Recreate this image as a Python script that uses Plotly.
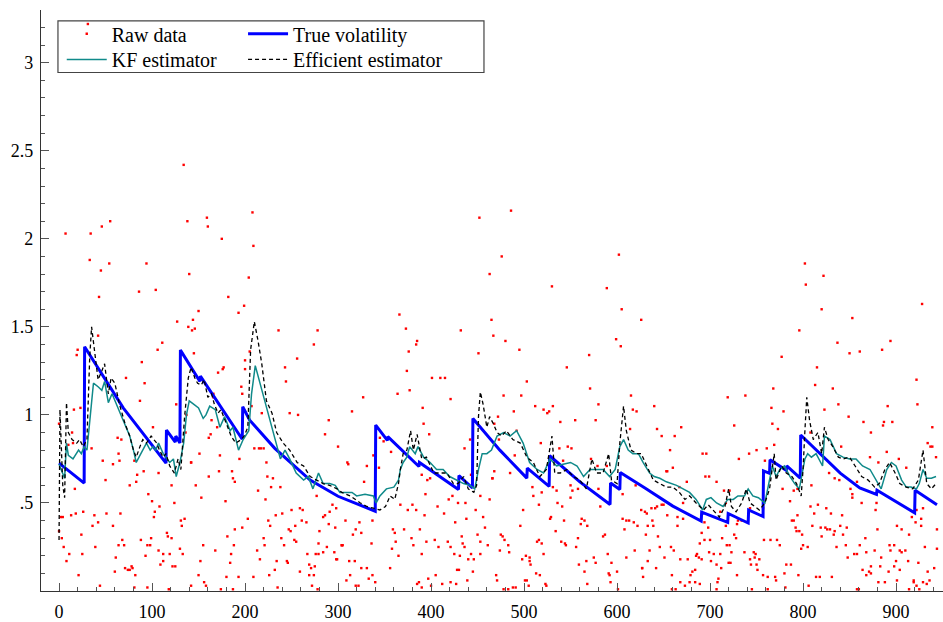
import plotly.graph_objects as go

# ---------------- True volatility (vertices of the piecewise path) ----------------
TV_X = [0, 27, 27.5, 69, 115, 115.5, 125, 125.5, 130, 130.5, 151.5, 152, 197, 197.5, 205, 232, 270, 300,
        340, 340.5, 353, 353.5, 387, 387.5, 429.5, 430, 444.5, 445, 474, 503, 503.5, 527, 527.5, 560,
        592.5, 593, 603, 603.5, 630, 660, 690.5, 691, 719, 719.5, 741, 741.5, 757, 757.5, 764, 764.5,
        782, 782.5, 797, 797.5, 840, 861, 879, 879.5, 920, 920.5, 944]
TV_Y = [0.726, 0.613, 1.387, 1.04, 0.726, 0.914, 0.845, 0.88, 0.84, 1.368, 1.19, 1.22, 0.862, 1.046, 0.97,
        0.81, 0.63, 0.538, 0.453, 0.942, 0.855, 0.877, 0.707, 0.73, 0.576, 0.655, 0.585, 0.98, 0.80, 0.641,
        0.698, 0.594, 0.768, 0.62, 0.491, 0.613, 0.576, 0.673, 0.585, 0.482, 0.397, 0.448, 0.39, 0.44,
        0.386, 0.46, 0.423, 0.682, 0.668, 0.745, 0.685, 0.71, 0.641, 0.886, 0.669, 0.585, 0.548, 0.572,
        0.444, 0.572, 0.49]

# ---------------- KF estimator ----------------
KF_X = [0, 3, 6, 8, 10, 15, 21, 24, 27, 30,
        33, 37, 42, 46, 49, 53, 57, 61, 67, 72,
        76, 80, 83, 87, 90, 94, 98, 101, 104, 107,
        112, 116, 119, 123, 126, 130, 134, 137, 140, 145,
        150, 155, 158, 162, 168, 173, 178, 184, 187, 193,
        198, 204, 207, 211, 216, 221, 227, 232, 238, 243,
        248, 255, 263, 268, 273, 279, 284, 291, 297, 302,
        308, 315, 320, 329, 338, 341, 345, 352, 360, 365,
        367, 370, 374, 377, 383, 386, 392, 399, 406, 413,
        420, 428, 435, 442, 447, 451, 455, 460, 465, 471,
        478, 485, 492, 499, 506, 514, 521, 528, 535, 542,
        550, 557, 564, 571, 578, 585, 592, 598, 603, 607,
        612, 617, 623, 628, 635, 640, 646, 653, 664, 671,
        678, 685, 692, 696, 701, 707, 714, 719, 725, 730,
        737, 741, 746, 752, 759, 762, 767, 771, 775, 780,
        786, 791, 796, 802, 805, 809, 814, 821, 823, 829,
        836, 843, 850, 857, 864, 872, 879, 884, 890, 895,
        900, 906, 911, 916, 922, 925, 929, 933, 938, 943]
KF_Y = [0.72, 0.68, 0.64, 0.84, 0.77, 0.75, 0.80, 0.78, 0.82, 0.80,
        0.97, 1.18, 1.16, 1.14, 1.19, 1.07, 1.12, 1.07, 0.99, 0.93,
        0.88, 0.80, 0.73, 0.77, 0.80, 0.84, 0.80, 0.82, 0.80, 0.84,
        0.78, 0.75, 0.73, 0.75, 0.65, 0.73, 0.84, 1.00, 1.08, 1.06,
        1.04, 0.98, 1.00, 1.05, 1.03, 0.93, 0.99, 0.91, 0.93, 0.80,
        0.86, 0.91, 1.12, 1.28, 1.18, 1.08, 0.97, 0.86, 0.75, 0.80,
        0.75, 0.67, 0.63, 0.65, 0.58, 0.67, 0.61, 0.61, 0.60, 0.56,
        0.56, 0.56, 0.54, 0.55, 0.54, 0.50, 0.54, 0.58, 0.59, 0.63,
        0.69, 0.73, 0.76, 0.82, 0.78, 0.82, 0.76, 0.73, 0.69, 0.69,
        0.65, 0.63, 0.61, 0.60, 0.58, 0.69, 0.78, 0.78, 0.80, 0.88,
        0.90, 0.88, 0.91, 0.84, 0.73, 0.69, 0.67, 0.75, 0.71, 0.72,
        0.73, 0.71, 0.65, 0.69, 0.69, 0.69, 0.65, 0.69, 0.82, 0.86,
        0.80, 0.78, 0.78, 0.73, 0.67, 0.65, 0.64, 0.62, 0.60, 0.58,
        0.56, 0.52, 0.46, 0.52, 0.53, 0.50, 0.48, 0.52, 0.52, 0.54,
        0.54, 0.58, 0.54, 0.53, 0.50, 0.58, 0.71, 0.65, 0.69, 0.71,
        0.65, 0.61, 0.58, 0.75, 0.78, 0.76, 0.78, 0.71, 0.88, 0.86,
        0.78, 0.76, 0.75, 0.75, 0.71, 0.69, 0.63, 0.58, 0.69, 0.73,
        0.71, 0.63, 0.59, 0.59, 0.58, 0.61, 0.69, 0.64, 0.64, 0.65]

# ---------------- Efficient estimator ----------------
EF_X = [0, 1, 4, 6, 8, 10, 14, 19, 22, 26,
        30, 33, 35, 39, 42, 46, 49, 53, 56, 60,
        65, 71, 76, 80, 83, 87, 90, 94, 99, 105,
        108, 112, 115, 119, 124, 128, 131, 135, 139, 142,
        146, 149, 153, 156, 160, 164, 167, 171, 174, 180,
        185, 190, 196, 199, 203, 206, 210, 214, 218, 223,
        229, 234, 241, 248, 256, 263, 270, 277, 284, 291,
        299, 304, 313, 324, 331, 338, 345, 351, 356, 361,
        365, 367, 370, 374, 378, 381, 385, 390, 395, 403,
        410, 417, 424, 429, 435, 440, 446, 449, 451, 453,
        456, 460, 463, 467, 471, 476, 481, 488, 496, 503,
        510, 517, 524, 530, 533, 539, 546, 553, 560, 567,
        573, 578, 585, 591, 594, 600, 603, 607, 610, 615,
        621, 626, 632, 639, 646, 653, 660, 667, 673, 678,
        685, 693, 698, 703, 710, 716, 720, 723, 728, 734,
        739, 743, 748, 753, 759, 764, 769, 771, 777, 782,
        788, 793, 798, 800, 802, 804, 807, 811, 816, 820,
        823, 827, 832, 838, 843, 850, 856, 863, 870, 877,
        882, 888, 893, 899, 904, 911, 918, 924, 929, 933,
        938, 943]
EF_Y = [0.29, 1.03, 0.60, 0.53, 1.07, 0.90, 0.86, 0.84, 0.86, 0.82,
        0.86, 1.33, 1.50, 1.33, 1.20, 1.25, 1.29, 1.12, 1.21, 1.18,
        1.06, 0.95, 0.88, 0.80, 0.76, 0.82, 0.86, 0.84, 0.88, 0.84,
        0.80, 0.76, 0.78, 0.71, 0.67, 0.75, 0.69, 0.99, 1.21, 1.27,
        1.21, 1.18, 1.17, 1.20, 1.10, 1.12, 1.06, 1.01, 1.03, 0.95,
        0.88, 0.84, 0.86, 0.88, 0.93, 1.37, 1.53, 1.42, 1.29, 1.08,
        1.01, 0.90, 0.84, 0.80, 0.73, 0.71, 0.65, 0.63, 0.61, 0.60,
        0.58, 0.56, 0.54, 0.50, 0.48, 0.47, 0.46, 0.48, 0.54, 0.52,
        0.61, 0.69, 0.78, 0.80, 0.91, 0.80, 0.89, 0.75, 0.76, 0.67,
        0.67, 0.67, 0.61, 0.61, 0.65, 0.58, 0.56, 0.60, 0.99, 1.13,
        1.06, 0.93, 0.99, 0.95, 0.90, 0.88, 0.91, 0.86, 0.84, 0.76,
        0.73, 0.65, 0.69, 0.88, 0.67, 0.67, 0.69, 0.65, 0.63, 0.58,
        0.75, 0.67, 0.67, 0.78, 0.63, 0.61, 0.84, 1.05, 0.91, 0.80,
        0.78, 0.78, 0.71, 0.63, 0.61, 0.59, 0.59, 0.56, 0.52, 0.54,
        0.50, 0.46, 0.49, 0.46, 0.42, 0.48, 0.58, 0.48, 0.45, 0.50,
        0.58, 0.50, 0.48, 0.46, 0.50, 0.58, 0.78, 0.63, 0.71, 0.67,
        0.65, 0.61, 0.54, 0.69, 0.91, 1.10, 0.97, 0.86, 0.90, 0.78,
        0.93, 0.86, 0.82, 0.76, 0.75, 0.76, 0.71, 0.65, 0.63, 0.59,
        0.61, 0.69, 0.73, 0.67, 0.61, 0.59, 0.58, 0.63, 0.80, 0.61,
        0.58, 0.61]

# ---------------- Raw data (read region by region) ----------------
RAW_X_A = [134, 208, 159, 138, 55, 46, 160, 7, 34, 175,
           209, 33, 54, 94, 45, 140, 204, 86, 104, 43,
           182, 199, 150, 193, 366, 144, 127, 139, 146, 143,
           236, 278, 373, 432, 452, 42, 31]
RAW_Y_A = [2.42, 2.15, 2.12, 2.10, 2.10, 2.07, 2.07, 2.03, 2.03, 2.00,
           1.96, 1.88, 1.86, 1.86, 1.82, 1.80, 1.78, 1.70, 1.71, 1.67,
           1.67, 1.62, 1.59, 1.58, 1.57, 1.54, 1.53, 1.50, 1.49, 1.48,
           1.48, 1.48, 1.49, 1.48, 2.12, 1.45, 3.22]

RAW_X_B = [486, 476, 602, 463, 802, 822, 803, 530, 589, 605,
           928, 820, 465, 626, 853, 796, 467]
RAW_Y_B = [2.16, 1.90, 1.91, 1.80, 1.86, 1.79, 1.74, 1.73, 1.72, 1.60,
           1.63, 1.60, 1.54, 1.54, 1.55, 1.48, 1.45]

RAW_X_C = [111, 20, 19, 106, 89, 72, 92, 87, 126, 23,
           16, 0, 137, 136, 142, 14, 101, 10, 15, 63,
           67, 35, 64, 47, 58, 65, 81, 91, 84, 107,
           50, 76, 83, 17, 121, 96, 100, 124, 108, 103,
           102, 26, 18, 13, 2, 4, 38, 51, 66, 42,
           36, 58, 131, 135, 132, 3, 0, 24, 68, 88,
           99, 98, 116, 117, 5, 39, 64, 70, 95, 121,
           130, 133, 11, 25, 93, 107, 112, 119, 8, 61,
           112, 109, 122, 125, 71, 74, 76, 78, 79, 21,
           60, 82, 44, 81, 95, 118, 142]
RAW_Y_C = [1.41, 1.37, 1.34, 1.37, 1.30, 1.21, 1.18, 1.08, 1.06, 1.04,
           1.03, 0.95, 1.00, 0.90, 0.73, 0.90, 0.93, 0.83, 0.84, 0.87,
           0.86, 0.81, 0.78, 0.74, 0.72, 0.74, 0.74, 0.68, 0.66, 0.67,
           0.63, 0.60, 0.62, 0.58, 0.60, 0.55, 0.51, 0.50, 0.48, 0.45,
           0.42, 0.45, 0.44, 0.43, 0.42, 0.42, 0.43, 0.44, 0.44, 0.39,
           0.37, 0.37, 0.40, 0.41, 0.37, 0.30, 0.34, 0.32, 0.29, 0.29,
           0.30, 0.26, 0.33, 0.31, 0.25, 0.25, 0.26, 0.26, 0.26, 0.30,
           0.24, 0.21, 0.21, 0.21, 0.20, 0.23, 0.21, 0.21, 0.17, 0.19,
           0.17, 0.15, 0.14, 0.14, 0.13, 0.12, 0.12, 0.14, 0.13, 0.09,
           0.11, 0.09, 0.03, 0.02, 0.02, 0.01, 0.03]

RAW_X_D = [274, 145, 256, 200, 205, 177, 176, 171, 200, 243,
           244, 196, 197, 166, 166, 207, 218, 248, 257, 290,
           164, 170, 163, 161, 286, 210, 215, 217, 220, 300,
           194, 151, 173, 142, 223, 186, 172, 161, 224, 187,
           189, 230, 147, 238, 228, 214, 153, 179, 222, 277,
           294, 298, 259, 262, 250, 291, 286, 284, 233, 240,
           261, 225, 227, 203, 197, 189, 247, 249, 254, 266,
           297, 280, 290, 181, 155, 168, 188, 220, 221, 239,
           242, 253, 255, 279, 288, 304, 267, 276, 279, 284,
           296, 185, 213, 152, 184, 216, 234, 245, 246, 269,
           271, 275, 299, 298, 226, 232, 259, 269, 274, 150,
           180, 193, 209, 156, 158, 174, 187, 235, 272, 278]
RAW_Y_D = [1.40, 1.35, 1.32, 1.31, 1.36, 1.27, 1.26, 1.24, 1.26, 1.27,
           1.19, 1.16, 1.12, 1.12, 1.10, 1.05, 1.01, 1.01, 1.00, 0.97,
           0.97, 0.93, 0.89, 0.87, 0.89, 0.81, 0.81, 0.81, 0.81, 0.82,
           0.75, 0.78, 0.77, 0.73, 0.73, 0.68, 0.68, 0.65, 0.65, 0.64,
           0.62, 0.64, 0.60, 0.59, 0.59, 0.57, 0.53, 0.51, 0.52, 0.54,
           0.49, 0.47, 0.47, 0.46, 0.46, 0.45, 0.43, 0.42, 0.43, 0.44,
           0.40, 0.40, 0.37, 0.41, 0.36, 0.35, 0.35, 0.34, 0.37, 0.39,
           0.36, 0.34, 0.38, 0.31, 0.26, 0.23, 0.26, 0.30, 0.26, 0.30,
           0.26, 0.29, 0.28, 0.27, 0.25, 0.26, 0.21, 0.21, 0.21, 0.22,
           0.22, 0.21, 0.23, 0.17, 0.16, 0.18, 0.17, 0.17, 0.16, 0.15,
           0.13, 0.14, 0.18, 0.18, 0.09, 0.12, 0.11, 0.09, 0.09, 0.09,
           0.08, 0.08, 0.08, 0.05, 0.03, 0.01, 0.01, 0.02, 0.03, 0.01]

RAW_X_E = [385, 384, 376, 451, 374, 401, 410, 415, 364, 377,
           327, 421, 391, 315, 392, 398, 345, 349, 357, 442,
           436, 338, 310, 311, 331, 344, 466, 390, 396, 399,
           328, 443, 394, 423, 419, 429, 437, 453, 367, 380,
           375, 384, 407, 448, 414, 393, 308, 323, 337, 426,
           438, 456, 458, 359, 361, 388, 371, 319, 316, 325,
           450, 433, 304, 305, 336, 362, 379, 381, 395, 404,
           408, 418, 421, 434, 436, 453, 461, 365, 358, 390,
           425, 431, 440, 443, 446, 453, 312, 318, 325, 331,
           356, 428, 430, 445, 313, 337, 333, 340, 387, 397,
           405, 412, 421, 427, 439, 385, 319, 322, 309, 390,
           400]
RAW_Y_E = [1.42, 1.40, 1.36, 1.35, 1.25, 1.21, 1.21, 1.21, 1.12, 1.14,
           1.10, 1.09, 1.04, 1.02, 0.95, 0.89, 0.87, 0.85, 0.79, 0.86,
           0.81, 0.77, 0.73, 0.72, 0.71, 0.70, 0.64, 0.66, 0.63, 0.64,
           0.62, 0.66, 0.55, 0.54, 0.52, 0.50, 0.50, 0.54, 0.49, 0.49,
           0.46, 0.46, 0.48, 0.46, 0.44, 0.43, 0.40, 0.39, 0.40, 0.39,
           0.41, 0.42, 0.36, 0.35, 0.33, 0.35, 0.35, 0.35, 0.32, 0.33,
           0.32, 0.31, 0.26, 0.26, 0.27, 0.28, 0.30, 0.26, 0.28, 0.29,
           0.25, 0.28, 0.25, 0.27, 0.25, 0.28, 0.26, 0.20, 0.24, 0.21,
           0.21, 0.20, 0.18, 0.21, 0.18, 0.21, 0.17, 0.17, 0.13, 0.13,
           0.13, 0.12, 0.12, 0.11, 0.09, 0.09, 0.07, 0.05, 0.05, 0.07,
           0.09, 0.04, 0.05, 0.04, 0.06, 0.04, 0.03, 0.03, 0.06, 0.02,
           0.03]

RAW_X_F = [480, 599, 604, 495, 570, 546, 503, 571, 478, 497,
           615, 580, 512, 521, 527, 531, 525, 617, 621, 489,
           472, 539, 555, 577, 468, 614, 492, 473, 518, 547,
           551, 538, 490, 542, 468, 485, 579, 572, 589, 466,
           509, 531, 535, 550, 552, 558, 519, 510, 550, 580,
           606, 620, 463, 516, 536, 541, 582, 499, 529, 528,
           543, 562, 565, 561, 606, 610, 613, 618, 622, 496,
           568, 608, 475, 477, 479, 534, 587, 585, 516, 519,
           514, 540, 544, 545, 558, 483, 474, 484, 521, 556,
           590, 619, 498, 502, 506, 506, 507, 559, 575, 567,
           577, 594, 610, 470, 513, 517, 565, 591, 592, 600,
           627, 471, 501, 503, 523, 524, 568, 593, 601, 478,
           483, 488, 491, 505]
RAW_Y_F = [1.42, 1.43, 1.39, 1.37, 1.34, 1.27, 1.19, 1.15, 1.11, 1.11,
           1.11, 1.06, 1.05, 1.03, 1.02, 1.05, 1.01, 1.03, 1.02, 1.02,
           0.99, 0.96, 0.97, 0.97, 0.95, 0.92, 0.91, 0.86, 0.84, 0.82,
           0.81, 0.81, 0.77, 0.74, 0.68, 0.67, 0.71, 0.75, 0.71, 0.64,
           0.59, 0.59, 0.57, 0.60, 0.57, 0.58, 0.56, 0.54, 0.53, 0.58,
           0.55, 0.60, 0.52, 0.49, 0.50, 0.48, 0.48, 0.46, 0.42, 0.41,
           0.40, 0.41, 0.40, 0.38, 0.41, 0.40, 0.40, 0.39, 0.37, 0.37,
           0.37, 0.35, 0.32, 0.31, 0.29, 0.34, 0.32, 0.31, 0.29, 0.27,
           0.28, 0.28, 0.27, 0.26, 0.30, 0.26, 0.23, 0.22, 0.21, 0.25,
           0.21, 0.23, 0.18, 0.20, 0.19, 0.17, 0.15, 0.15, 0.19, 0.17,
           0.16, 0.16, 0.19, 0.09, 0.10, 0.09, 0.11, 0.10, 0.09, 0.11,
           0.13, 0.06, 0.06, 0.06, 0.04, 0.03, 0.04, 0.05, 0.01, 0.01,
           0.01, 0.02, 0.02, 0.03]

RAW_X_G = [777, 768, 719, 738, 640, 766, 779, 726, 669, 643,
           767, 773, 648, 662, 761, 769, 657, 692, 696, 742,
           731, 750, 759, 653, 654, 660, 695, 699, 707, 675,
           667, 715, 721, 778, 643, 648, 650, 671, 637, 626,
           630, 632, 641, 654, 665, 671, 711, 717, 743, 757,
           734, 786, 694, 638, 633, 639, 665, 698, 717, 729,
           730, 726, 728, 631, 644, 691, 713, 758, 765, 772,
           775, 689, 694, 700, 718, 721, 635, 646, 658, 661,
           686, 688, 699, 704, 711, 723, 737, 747, 749, 748,
           651, 668, 676, 685, 691, 707, 720, 722, 743, 744,
           750, 753, 782, 627, 642, 633, 681, 679, 684, 701,
           712, 751, 659, 729, 757, 762, 770, 780, 628, 668,
           689, 708, 709, 673, 678, 684, 659, 663, 707, 745,
           762, 771, 781]
RAW_Y_G = [1.33, 1.15, 1.10, 1.11, 1.05, 1.04, 1.02, 0.94, 0.93, 0.92,
           0.95, 0.92, 0.88, 0.88, 0.81, 0.83, 0.80, 0.78, 0.78, 0.78,
           0.75, 0.80, 0.74, 0.68, 0.68, 0.70, 0.65, 0.65, 0.62, 0.62,
           0.59, 0.57, 0.57, 0.58, 0.48, 0.49, 0.49, 0.50, 0.47, 0.46,
           0.45, 0.44, 0.47, 0.43, 0.42, 0.41, 0.45, 0.50, 0.47, 0.47,
           0.40, 0.51, 0.39, 0.40, 0.37, 0.37, 0.37, 0.36, 0.37, 0.38,
           0.40, 0.32, 0.30, 0.32, 0.31, 0.33, 0.30, 0.29, 0.29, 0.29,
           0.26, 0.27, 0.29, 0.29, 0.26, 0.26, 0.23, 0.25, 0.25, 0.23,
           0.21, 0.19, 0.22, 0.21, 0.21, 0.22, 0.22, 0.22, 0.21, 0.19,
           0.19, 0.18, 0.18, 0.20, 0.18, 0.15, 0.16, 0.16, 0.18, 0.15,
           0.15, 0.18, 0.15, 0.13, 0.13, 0.17, 0.11, 0.09, 0.12, 0.17,
           0.13, 0.12, 0.09, 0.09, 0.09, 0.08, 0.08, 0.10, 0.08, 0.05,
           0.04, 0.05, 0.07, 0.03, 0.05, 0.05, 0.01, 0.01, 0.01, 0.01,
           0.01, 0.06, 0.02]

RAW_X_H = [837, 894, 861, 850, 885, 815, 813, 832, 922, 923,
           838, 891, 823, 849, 865, 887, 886, 896, 939, 808,
           873, 934, 841, 937, 939, 872, 890, 943, 881, 903,
           911, 828, 834, 839, 858, 809, 790, 794, 851, 853,
           853, 863, 879, 878, 808, 816, 825, 812, 830, 842,
           794, 922, 929, 917, 788, 790, 810, 792, 793, 796,
           799, 819, 824, 826, 829, 820, 833, 834, 840, 843,
           847, 880, 901, 906, 914, 927, 944, 927, 921, 867,
           800, 798, 805, 836, 846, 861, 858, 848, 855, 868,
           877, 884, 893, 894, 898, 904, 906, 910, 931, 944,
           787, 900, 913, 864, 873, 883, 871, 868, 873, 892,
           898, 904, 924, 934, 941, 795, 814, 818, 831, 881,
           888, 901, 919, 929, 933, 936, 806, 858, 860, 914,
           919, 922, 925]
RAW_Y_H = [1.41, 1.42, 1.36, 1.35, 1.37, 1.27, 1.17, 1.15, 1.20, 1.06,
           1.06, 1.05, 1.03, 0.99, 0.96, 0.96, 0.94, 0.96, 0.93, 0.90,
           0.90, 0.84, 0.82, 0.82, 0.82, 0.76, 0.79, 0.76, 0.73, 0.75,
           0.70, 0.67, 0.64, 0.63, 0.62, 0.60, 0.57, 0.58, 0.58, 0.55,
           0.53, 0.50, 0.50, 0.46, 0.48, 0.49, 0.47, 0.44, 0.44, 0.43,
           0.43, 0.46, 0.47, 0.42, 0.40, 0.40, 0.37, 0.36, 0.34, 0.34,
           0.32, 0.36, 0.36, 0.35, 0.35, 0.31, 0.32, 0.34, 0.37, 0.32,
           0.36, 0.35, 0.37, 0.35, 0.32, 0.37, 0.35, 0.41, 0.39, 0.30,
           0.26, 0.24, 0.25, 0.25, 0.26, 0.26, 0.21, 0.19, 0.21, 0.22,
           0.23, 0.19, 0.26, 0.23, 0.26, 0.23, 0.22, 0.23, 0.25, 0.24,
           0.15, 0.17, 0.17, 0.12, 0.14, 0.14, 0.11, 0.09, 0.10, 0.11,
           0.14, 0.12, 0.16, 0.11, 0.13, 0.09, 0.08, 0.08, 0.08, 0.05,
           0.05, 0.06, 0.06, 0.05, 0.04, 0.06, 0.03, 0.01, 0.01, 0.01,
           0.05, 0.03, 0.01]

RAW_X = RAW_X_A + RAW_X_B + RAW_X_C + RAW_X_D + RAW_X_E + RAW_X_F + RAW_X_G + RAW_X_H
RAW_Y = RAW_Y_A + RAW_Y_B + RAW_Y_C + RAW_Y_D + RAW_Y_E + RAW_Y_F + RAW_Y_G + RAW_Y_H

Y_TICKS = [0.5, 1, 1.5, 2, 2.5, 3]
Y_TICK_TEXT = [".5", "1", "1.5", "2", "2.5", "3"]

FONT = "Liberation Serif"

fig = go.Figure()
fig.add_trace(go.Scatter(x=RAW_X, y=RAW_Y, mode="markers", name="Raw data",
                         marker=dict(color="#ff0000", size=2.4, symbol="square", line=dict(width=0)),
                         legend="legend"))
fig.add_trace(go.Scatter(x=TV_X, y=TV_Y, mode="lines", name="True volatility",
                         line=dict(color="#0000ff", width=3), legend="legend2"))
fig.add_trace(go.Scatter(x=KF_X, y=KF_Y, mode="lines", name="KF estimator",
                         line=dict(color="#108a8a", width=1.5), legend="legend3"))
fig.add_trace(go.Scatter(x=EF_X, y=EF_Y, mode="lines", name="Efficient estimator",
                         line=dict(color="#000000", width=1.3, dash="4px,3px"), legend="legend4"))

legend_common = dict(xanchor="left", yanchor="middle", bgcolor="rgba(0,0,0,0)",
                     borderwidth=0, font=dict(family=FONT, size=20, color="black"),
                     itemwidth=40, tracegroupgap=0)
ROW1 = 0.9590
ROW2 = 0.9150
COL1 = 0.023
COL2 = 0.224

fig.update_layout(
    width=943, height=622,
    margin=dict(l=41, r=0, t=10, b=27, pad=0),
    paper_bgcolor="white", plot_bgcolor="white",
    font=dict(family=FONT, size=18, color="black"),
    showlegend=True,
    legend=dict(x=COL1, y=ROW1, **legend_common),
    legend2=dict(x=COL2, y=ROW1, **legend_common),
    legend3=dict(x=COL1, y=ROW2, **legend_common),
    legend4=dict(x=COL2, y=ROW2, **legend_common),
    xaxis=dict(range=[-19.4, 950.5], showgrid=False, zeroline=False,
               showline=True, linecolor="#333", linewidth=1.4,
               ticks="inside", ticklen=8, tickwidth=1.2, tickcolor="#555",
               tick0=0, dtick=100, ticklabelstandoff=4,
               tickfont=dict(family=FONT, size=18, color="black"),
               minor=dict(dtick=20, tick0=0, ticks="inside", ticklen=4, tickwidth=1, tickcolor="#555")),
    yaxis=dict(range=[0, 3.2995], showgrid=False, zeroline=False,
               showline=True, linecolor="#333", linewidth=1.4,
               ticks="inside", ticklen=8, tickwidth=1.2, tickcolor="#555",
               tickmode="array", tickvals=Y_TICKS, ticktext=Y_TICK_TEXT, ticklabelstandoff=3,
               tickfont=dict(family=FONT, size=18, color="black"),
               minor=dict(dtick=0.1, tick0=0, ticks="inside", ticklen=4, tickwidth=1, tickcolor="#555")),
    shapes=[dict(type="rect", xref="paper", yref="paper",
                 x0=0.0188, x1=0.4911, y0=0.8924, y1=0.9812,
                 line=dict(color="#444", width=1.2), fillcolor="rgba(0,0,0,0)")],
)

fig.write_html("out.html")
